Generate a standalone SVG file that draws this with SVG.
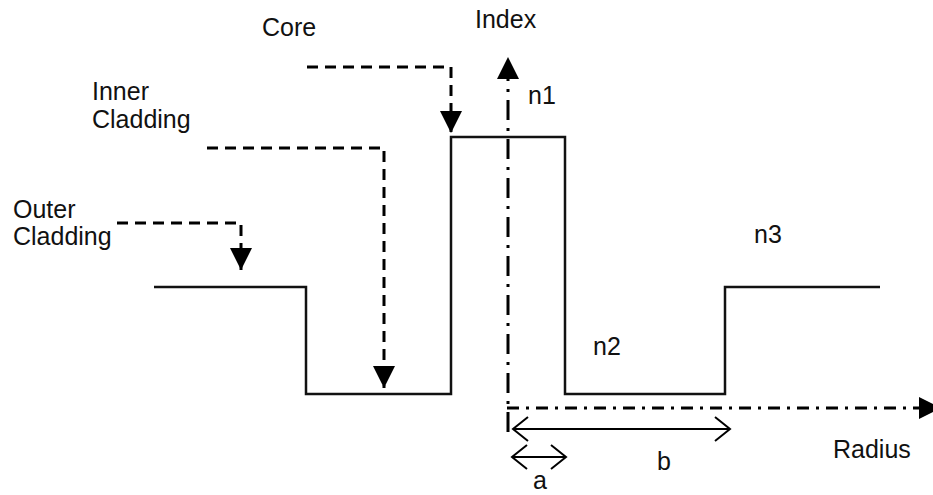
<svg xmlns="http://www.w3.org/2000/svg" width="933" height="495" viewBox="0 0 933 495">
<style>
text{font-family:"Liberation Sans",Arial,sans-serif;font-size:25px;fill:#111}
.prof{fill:none;stroke:#111;stroke-width:2.5;stroke-linejoin:miter}
.dash{fill:none;stroke:#000;stroke-width:3;stroke-dasharray:11 7}
.axv{fill:none;stroke:#000;stroke-width:3;stroke-dasharray:20 8 3 8}
.axh{fill:none;stroke:#000;stroke-width:3;stroke-dasharray:12 7 3 7}
.dim{fill:none;stroke:#000;stroke-width:2}
</style>
<defs>
<marker id="tri" markerUnits="userSpaceOnUse" markerWidth="22" markerHeight="22" viewBox="0 0 22 22" refX="22" refY="11" orient="auto">
<path d="M0,0 L22,11 L0,22 z" fill="#000"/>
</marker>
<marker id="chev" markerUnits="userSpaceOnUse" markerWidth="20" markerHeight="30" viewBox="-18 -14 20 28" refX="0" refY="0" orient="auto-start-reverse">
<path d="M-15,-12 L0,0 L-15,12" fill="none" stroke="#000" stroke-width="2"/>
</marker>
</defs>
<g id="profile">
<path class="prof" d="M154,287 H306 V394 H451 V137 H565 V394 H725 V287 H880"/>
</g>
<g id="connectors">
<path id="core-arrow" class="dash" d="M307,67 H451 V133" marker-end="url(#tri)"/>
<path id="inner-arrow" class="dash" d="M207,148 H384 V388" marker-end="url(#tri)"/>
<path id="outer-arrow" class="dash" d="M117,223 H241 V270" marker-end="url(#tri)"/>
<path id="index-axis" class="axv" d="M508,432 V57" marker-end="url(#tri)"/>
<path id="radius-axis" class="axh" d="M507,408 H941" marker-end="url(#tri)"/>
<path id="dim-b" class="dim" d="M513,429 H730" marker-start="url(#chev)" marker-end="url(#chev)"/>
<path id="dim-a" class="dim" d="M512,457 H566" marker-start="url(#chev)" marker-end="url(#chev)"/>
</g>
<g id="label-core"><text x="262" y="36">Core</text></g>
<g id="label-index"><text x="475" y="28">Index</text></g>
<g id="label-n1"><text x="528" y="104">n1</text></g>
<g id="label-inner"><text x="92" y="100">Inner</text><text x="92" y="128">Cladding</text></g>
<g id="label-outer"><text x="13" y="218">Outer</text><text x="13" y="245">Cladding</text></g>
<g id="label-n3"><text x="754" y="243">n3</text></g>
<g id="label-n2"><text x="593" y="355">n2</text></g>
<g id="label-radius"><text x="833" y="458">Radius</text></g>
<g id="label-b"><text x="657" y="470">b</text></g>
<g id="label-a"><text x="533" y="489">a</text></g>
</svg>
